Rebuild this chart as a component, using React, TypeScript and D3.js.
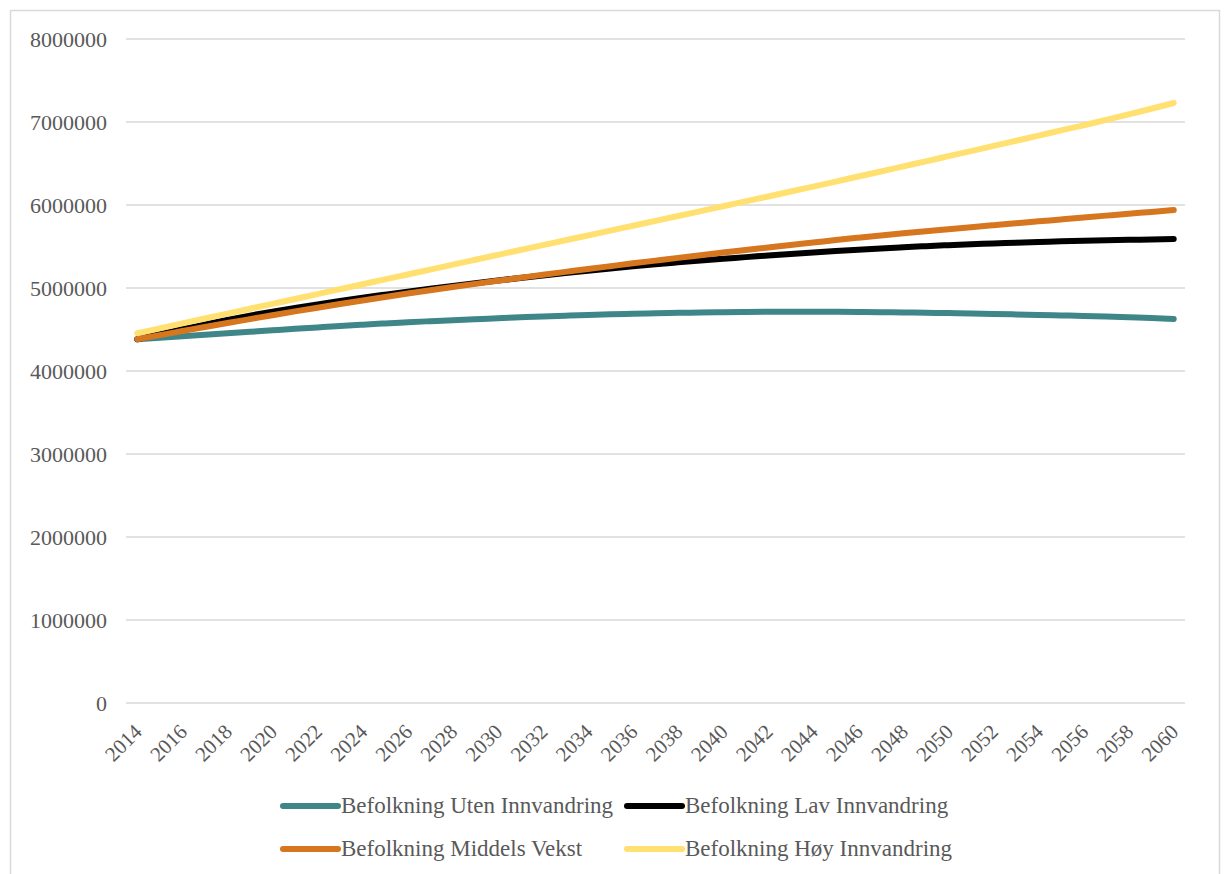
import React from "react";
import * as d3 from "d3";

// Population projections, 2014–2060 (thousands of persons)
const years: number[] = d3.range(2014, 2061);

const utenInnvandring: number[] = [
  4382, 4400, 4418, 4436, 4454, 4472, 4490, 4508, 4525, 4542,
  4558, 4573, 4587, 4600, 4612, 4624, 4636, 4647, 4657, 4666,
  4675, 4683, 4690, 4696, 4701, 4705, 4709, 4712, 4714, 4715,
  4715, 4714, 4712, 4709, 4706, 4702, 4698, 4693, 4688, 4682,
  4676, 4670, 4663, 4656, 4648, 4640, 4627,
];

const lavInnvandring: number[] = [
  4382, 4445, 4505, 4562, 4616, 4667, 4715, 4760, 4803, 4844,
  4883, 4920, 4956, 4991, 5025, 5058, 5090, 5121, 5151, 5180,
  5208, 5235, 5261, 5286, 5309, 5331, 5352, 5372, 5392, 5411,
  5429, 5446, 5462, 5477, 5491, 5504, 5516, 5527, 5537, 5546,
  5554, 5562, 5569, 5575, 5580, 5585, 5590,
];

const middelsVekst: number[] = [
  4382, 4432, 4481, 4530, 4578, 4625, 4672, 4718, 4763, 4807,
  4850, 4892, 4933, 4973, 5012, 5050, 5087, 5123, 5159, 5194,
  5229, 5263, 5297, 5330, 5363, 5395, 5427, 5458, 5488, 5518,
  5547, 5578, 5606, 5633, 5659, 5684, 5708, 5732, 5756, 5780,
  5803, 5826, 5849, 5872, 5895, 5917, 5940,
];

const hoyInnvandring: number[] = [
  4455, 4514, 4573, 4632, 4691, 4750, 4809, 4868, 4927, 4986,
  5045, 5104, 5163, 5222, 5281, 5340, 5399, 5458, 5516, 5575,
  5633, 5692, 5750, 5809, 5867, 5926, 5985, 6044, 6103, 6163,
  6222, 6282, 6343, 6404, 6465, 6526, 6588, 6650, 6712, 6774,
  6836, 6899, 6960, 7026, 7092, 7160, 7229,
];

const seriesNames: string[] = [
  "Befolkning Uten Innvandring",
  "Befolkning Lav Innvandring",
  "Befolkning Middels Vekst",
  "Befolkning Høy Innvandring",
];
const seriesColors: string[] = ["#3F8689", "#000000", "#D6761E", "#FFE070"];
const seriesValues: number[][] = [utenInnvandring, lavInnvandring, middelsVekst, hoyInnvandring];

const yTicks: number[] = [0, 1000000, 2000000, 3000000, 4000000, 5000000, 6000000, 7000000, 8000000];
const xTickYears: number[] = years.filter((y) => (y - 2014) % 2 === 0);

const W = 1226;
const H = 874;
const plot = { left: 126, right: 1185, top: 39, bottom: 703 };
const FONT = "'Liberation Serif', 'Times New Roman', serif";
const TEXT = "#595959";
const GRID = "#D9D9D9";

export default function App() {
  const x = d3
    .scalePoint<number>()
    .domain(years)
    .range([plot.left, plot.right])
    .padding(0.5);
  const y = d3.scaleLinear().domain([0, 8000000]).range([plot.bottom, plot.top]);

  const line = d3
    .line<number>()
    .x((_, i) => x(years[i]) as number)
    .y((v) => y(v * 1000))
    .curve(d3.curveMonotoneX);

  const legendItems = [
    { col: 0, row: 0 },
    { col: 1, row: 0 },
    { col: 0, row: 1 },
    { col: 1, row: 1 },
  ];
  const legendCols = [283, 627];
  const legendRows = [806, 849];

  return (
    <div style={{ position: "absolute", left: 0, top: 0 }}>
      <svg width={W} height={H} style={{ display: "block", background: "#fff" }}>
        <rect x={10.5} y={10.5} width={1209} height={880} fill="#fff" stroke={GRID} strokeWidth={1.5} />

        {yTicks.map((t) => (
          <g key={t}>
            <line x1={plot.left} x2={plot.right} y1={y(t)} y2={y(t)} stroke={GRID} strokeWidth={1.5} />
            <text
              x={107}
              y={y(t)}
              dy="0.35em"
              textAnchor="end"
              fontFamily={FONT}
              fontSize={22}
              fill={TEXT}
            >
              {t}
            </text>
          </g>
        ))}

        {xTickYears.map((yr) => (
          <text
            key={yr}
            transform={`translate(${(x(yr) as number) + 6},${733}) rotate(-45)`}
            textAnchor="end"
            fontFamily={FONT}
            fontSize={21}
            fill={TEXT}
          >
            {yr}
          </text>
        ))}

        {seriesValues.map((vals, i) => (
          <path
            key={seriesNames[i]}
            d={line(vals) ?? ""}
            fill="none"
            stroke={seriesColors[i]}
            strokeWidth={6}
            strokeLinecap="round"
            strokeLinejoin="round"
          />
        ))}

        {legendItems.map((it, i) => {
          const lx = legendCols[it.col];
          const ly = legendRows[it.row];
          return (
            <g key={seriesNames[i]}>
              <line
                x1={lx}
                x2={lx + 55}
                y1={ly}
                y2={ly}
                stroke={seriesColors[i]}
                strokeWidth={6}
                strokeLinecap="round"
              />
              <text
                x={lx + 58}
                y={ly}
                dy="0.3em"
                fontFamily={FONT}
                fontSize={23}
                fill={TEXT}
              >
                {seriesNames[i]}
              </text>
            </g>
          );
        })}
      </svg>
    </div>
  );
}
